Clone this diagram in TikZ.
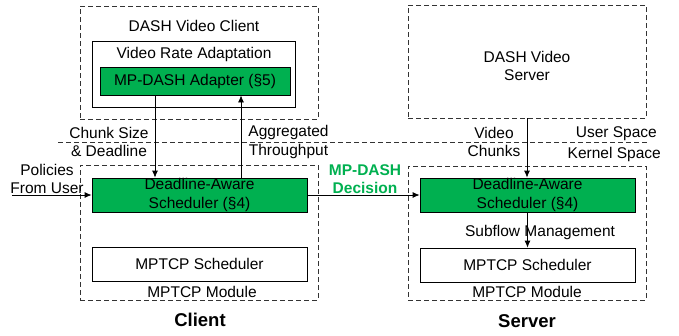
\documentclass[tikz,border=0pt]{standalone}
\usepackage{fontspec}
\setmainfont{Liberation Sans}
\usetikzlibrary{arrows.meta,calc}
\definecolor{mpgreen}{RGB}{0,176,80}
\begin{document}
\begin{tikzpicture}[x=1pt,y=-1pt,
  font=\fontsize{15.5}{18.5}\selectfont,
  dbox/.style={draw=black!80, line width=0.8pt, dash pattern=on 5pt off 3pt, inner sep=0pt},
  wbox/.style={draw=black, line width=0.8pt, fill=white, inner sep=0pt},
  gbox/.style={draw=black, line width=0.8pt, fill=mpgreen, inner sep=0pt, align=center},
  lbl/.style={inner sep=0pt, align=center},
  arr/.style={-{Latex[length=7pt,width=6pt]}, line width=0.8pt},
  bigl/.style={inner sep=0pt, font=\fontsize{18.5}{20}\selectfont\bfseries}
]
\useasboundingbox (0,0) rectangle (679,335);

% user/kernel line
\coordinate (ukl) at (58,142);
\coordinate (ukr) at (647,142);
\draw[line width=0.8pt, draw=black!80, dash pattern=on 5pt off 3pt] (ukl) -- (ukr);

% client user space
\node[dbox, minimum width=238pt, minimum height=113pt] (cli) at (199,62.5) {};
\node[lbl] (clit) at (194,26) {DASH Video Client};
\node[wbox, minimum width=203pt, minimum height=66pt] (vra) at (193.5,74) {};
\node[lbl] (vrat) at (194,54) {Video Rate Adaptation};
\node[gbox, minimum width=190pt, minimum height=28pt] (adp) at (195,81) {MP-DASH Adapter (§5)};

% client kernel
\node[dbox, minimum width=238pt, minimum height=135pt] (ckm) at (199,232.5) {};
\node[gbox, minimum width=215pt, minimum height=34pt] (sch1) at (199.5,195) {Deadline-Aware\\Scheduler (§4)};
\node[wbox, minimum width=215pt, minimum height=34pt] (mp1) at (199.5,264) {MPTCP Scheduler};
\node[lbl] (mod1) at (202,292) {MPTCP Module};
\node[bigl] (clientl) at (200,320) {Client};

% server user space
\node[dbox, minimum width=238pt, minimum height=113pt] (srv) at (527,61.5) {};
\node[lbl] (srvt) at (527,66) {DASH Video\\Server};

% server kernel
\node[dbox, minimum width=238pt, minimum height=134pt] (skm) at (527,233) {};
\node[gbox, minimum width=215pt, minimum height=34pt] (sch2) at (527.5,195) {Deadline-Aware\\Scheduler (§4)};
\node[wbox, minimum width=215pt, minimum height=34pt] (mp2) at (527.5,265) {MPTCP Scheduler};
\node[lbl] (mod2) at (527,292) {MPTCP Module};
\node[bigl] (serverl) at (527,321) {Server};

% labels
\node[lbl] (chunk) at (109,142) {Chunk Size\\\& Deadline};
\node[lbl] (aggr) at (288.5,142) {Aggregated\\Throughput};
\node[lbl] (pol) at (47,179) {Policies\\From User};
\node[lbl, text=mpgreen, font=\fontsize{15.5}{18.5}\selectfont\bfseries] (dec) at (365,179) {MP-DASH\\Decision};
\node[lbl] (vch) at (494,142) {Video\\Chunks};
\node[lbl, anchor=east] (us) at (657,134) {User Space};
\node[lbl, anchor=east] (ks) at (661,154) {Kernel Space};
\node[lbl] (sub) at (540,232) {Subflow Management};

% connectors
\coordinate (xa) at (155,0);
\coordinate (xb) at (241,0);
\coordinate (polst) at (12,195);
\draw[arr] (adp.south -| xa) -- (sch1.north -| xa);
\draw[arr] (sch1.north -| xb) -- (adp.south -| xb);
\draw[arr] (polst) -- (sch1.west);
\draw[arr] (sch1.east) -- (sch2.west);
\draw[arr] (srv.south) -- (srv.south |- sch2.north);
\draw[arr] (sch2.south) -- (mp2.north);
\end{tikzpicture}
\end{document}
